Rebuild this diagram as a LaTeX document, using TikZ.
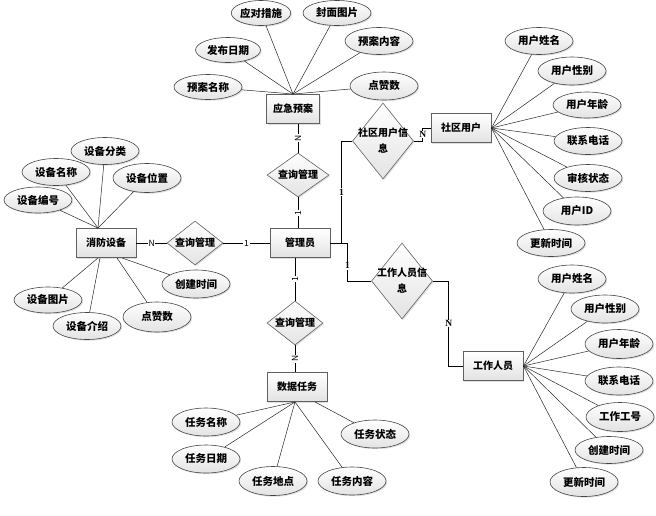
\documentclass[tikz,border=0pt]{standalone}
\usepackage{fontspec}
\setmainfont{Noto Sans CJK SC}
\newfontfamily\numfont{Liberation Serif}
\usetikzlibrary{shapes.geometric,shadows}

\tikzset{
  base/.style={draw=gray!75!black, top color=white, bottom color=gray!22,
    drop shadow={opacity=0.25, shadow xshift=1.2pt, shadow yshift=-1.2pt},
    font=\bfseries\fontsize{10}{11}\selectfont},
  ent/.style={base, rectangle, line width=0.9pt, minimum width=60pt, minimum height=29pt},
  attr/.style={base, ellipse, line width=0.6pt, draw=gray!55!black, inner sep=0pt,
    minimum width=68pt, minimum height=27pt, font=\bfseries\fontsize{10.5}{11}\selectfont},
  rel/.style={base, diamond, line width=0.6pt, aspect=1.3, inner sep=-1pt,
    minimum width=56pt, minimum height=44pt},
  relbig/.style={base, diamond, line width=0.6pt, aspect=0.8, inner sep=-5pt, align=center,
    minimum width=61pt, minimum height=76pt, font=\bfseries\fontsize{10}{16}\selectfont},
  link/.style={draw=black, line width=0.7pt},
  edge/.style={draw=black!85, line width=0.5pt},
  lab/.style={fill=white, inner sep=0.8pt, font=\fontsize{8.5}{9}\selectfont},
  labr/.style={lab, font=\numfont\bfseries\fontsize{9.5}{9}\selectfont},
}

\begin{document}
\begin{tikzpicture}[x=1pt, y=-1pt]
  \useasboundingbox (0,0) rectangle (656,515);

  % entities
  \node[ent, minimum width=53pt] (ent_plan)  at (293,109) {应急预案};
  \node[ent]   (ent_equip) at (106,243) {消防设备};
  \node[ent]   (ent_admin) at (300,243) {管理员};
  \node[ent]   (ent_user)  at (461,128) {社区用户};
  \node[ent]   (ent_staff) at (493,366) {工作人员};
  \node[ent]   (ent_task)  at (297,387) {数据任务};

  % relations
  \node[rel, minimum width=62pt] (rel_plan)  at (298,175) {查询管理};
  \node[rel]   (rel_equip) at (195,243) {查询管理};
  \node[rel]   (rel_task)  at (295,323) {查询管理};
  \node[relbig] (rel_user)  at (383,141) {社区用户信\\息};
  \node[relbig] (rel_staff) at (402,281) {工作人员信\\息};

  % relation links
  \draw[link] (rel_plan.north |- ent_plan.south) -- node[lab, rotate=90] {N} (rel_plan.north);
  \draw[link] (rel_plan.south) -- node[lab, rotate=90] {1} (rel_plan.south |- ent_admin.north);
  \draw[link] (ent_equip.east) -- node[lab] {N} (rel_equip.west);
  \draw[link] (rel_equip.east) -- node[lab] {1} (ent_admin.west);
  \draw[link] (ent_admin.south -| rel_task.north) -- node[lab, rotate=90] {1} (rel_task.north);
  \draw[link] (rel_task.south) -- node[lab, rotate=90] {N} (rel_task.south |- ent_task.north);
  \draw[link] (ent_admin.east) -- ++(11,0) |- node[labr, pos=0.25] {1} (rel_user.west);
  \draw[link] (ent_admin.east) -- ++(17,0) |- node[labr, pos=0.3] {1} (rel_staff.west);
  \draw[link] (rel_user.east) -- ++(9,0) |- node[labr, pos=0.25] {N} (ent_user.west);
  \draw[link] (rel_staff.east) -- ++(16,0) |- node[labr, pos=0.25] {N} (ent_staff.west);

  % attributes of 应急预案
  \node[attr, minimum width=56pt, minimum height=25pt] (plan_a1) at (261,13) {应对措施};
  \node[attr, minimum height=25pt] (plan_a2) at (337,13) {封面图片};
  \node[attr, minimum width=65pt, minimum height=25pt] (plan_a3) at (228,50) {发布日期};
  \node[attr] (plan_a4) at (379,41) {预案内容};
  \node[attr, minimum height=25pt] (plan_a5) at (208,87) {预案名称};
  \node[attr, minimum height=28pt] (plan_a6) at (384,86) {点赞数};
  \draw[edge] (plan_a1) -- (ent_plan.north);
  \draw[edge] (plan_a2) -- (ent_plan.north);
  \draw[edge] (plan_a3) -- (ent_plan.north);
  \draw[edge] (plan_a4) -- (ent_plan.north);
  \draw[edge] (plan_a5) -- (ent_plan.north);
  \draw[edge] (plan_a6) -- (ent_plan.north);

  % attributes of 消防设备
  \node[attr] (equip_a1) at (105,151) {设备分类};
  \node[attr] (equip_a2) at (56,172)  {设备名称};
  \node[attr, minimum height=29pt] (equip_a3) at (147,178) {设备位置};
  \node[attr, minimum height=26pt] (equip_a4) at (38,200)  {设备编号};
  \node[attr, minimum height=28pt] (equip_a5) at (196,284) {创建时间};
  \node[attr, minimum height=26pt] (equip_a6) at (48,300)  {设备图片};
  \node[attr, minimum height=30pt] (equip_a7) at (157,317) {点赞数};
  \node[attr] (equip_a8) at (87,326)  {设备介绍};
  \draw[edge] (equip_a1) -- ([xshift=-8pt]ent_equip.north);
  \draw[edge] (equip_a2) -- ([xshift=-8pt]ent_equip.north);
  \draw[edge] (equip_a3) -- ([xshift=-8pt]ent_equip.north);
  \draw[edge] (equip_a4) -- ([xshift=-8pt]ent_equip.north);
  \draw[edge] (equip_a5) -- ([xshift=16pt]ent_equip.south);
  \draw[edge] (equip_a6) -- ([xshift=-8pt]ent_equip.south);
  \draw[edge] (equip_a7) -- ([xshift=11pt]ent_equip.south);
  \draw[edge] (equip_a8) -- ([xshift=-6pt]ent_equip.south);

  % attributes of 社区用户
  \node[attr] (user_a1) at (539,41)  {用户姓名};
  \node[attr, minimum height=28pt] (user_a2) at (572,71)  {用户性别};
  \node[attr, minimum height=26pt] (user_a3) at (587,105) {用户年龄};
  \node[attr] (user_a4) at (588,141) {联系电话};
  \node[attr] (user_a5) at (588,178) {审核状态};
  \node[attr, minimum height=28pt] (user_a6) at (577,211) {用户ID};
  \node[attr] (user_a7) at (551,243) {更新时间};
  \draw[edge] (user_a1) -- (ent_user.east);
  \draw[edge] (user_a2) -- (ent_user.east);
  \draw[edge] (user_a3) -- (ent_user.east);
  \draw[edge] (user_a4) -- (ent_user.east);
  \draw[edge] (user_a5) -- (ent_user.east);
  \draw[edge] (user_a6) -- (ent_user.east);
  \draw[edge] (user_a7) -- (ent_user.east);

  % attributes of 工作人员
  \node[attr, minimum height=28pt] (staff_a1) at (572,279) {用户姓名};
  \node[attr, minimum height=28pt] (staff_a2) at (605,309) {用户性别};
  \node[attr, minimum height=29pt] (staff_a3) at (619,344) {用户年龄};
  \node[attr, minimum height=28pt] (staff_a4) at (619,381) {联系电话};
  \node[attr, minimum height=29pt] (staff_a5) at (620,417) {工作工号};
  \node[attr] (staff_a6) at (609,450) {创建时间};
  \node[attr, minimum height=29pt] (staff_a7) at (584,482) {更新时间};
  \draw[edge] (staff_a1) -- (ent_staff.east);
  \draw[edge] (staff_a2) -- (ent_staff.east);
  \draw[edge] (staff_a3) -- (ent_staff.east);
  \draw[edge] (staff_a4) -- (ent_staff.east);
  \draw[edge] (staff_a5) -- (ent_staff.east);
  \draw[edge] (staff_a6) -- (ent_staff.east);
  \draw[edge] (staff_a7) -- (ent_staff.east);

  % attributes of 数据任务
  \node[attr, minimum height=28pt] (task_a1) at (206,422) {任务名称};
  \node[attr, minimum height=28pt] (task_a2) at (206,459) {任务日期};
  \node[attr, minimum height=29pt] (task_a3) at (273,481) {任务地点};
  \node[attr, minimum height=28pt] (task_a4) at (352,481) {任务内容};
  \node[attr, minimum height=28pt] (task_a5) at (375,434) {任务状态};
  \draw[edge] (task_a1) -- ([xshift=-2pt]ent_task.south);
  \draw[edge] (task_a2) -- ([xshift=-2pt]ent_task.south);
  \draw[edge] (task_a3) -- ([xshift=-2pt]ent_task.south);
  \draw[edge] (task_a4) -- ([xshift=-2pt]ent_task.south);
  \draw[edge] (task_a5) -- ([xshift=18pt]ent_task.south);
\end{tikzpicture}
\end{document}
